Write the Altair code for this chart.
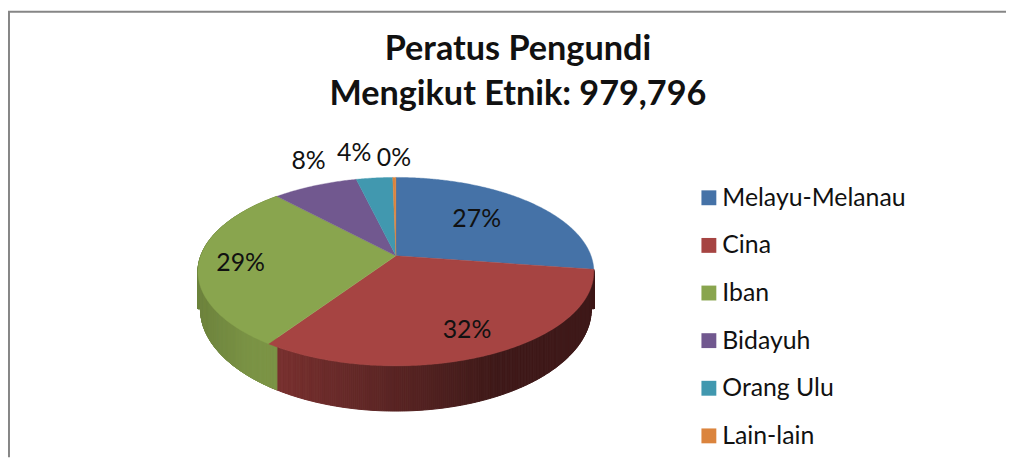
import math
import altair as alt
import pandas as pd

# --- data
categories = ["Melayu-Melanau", "Cina", "Iban", "Bidayuh", "Orang Ulu", "Lain-lain"]
shares = [27.3, 32.2, 28.5, 8.2, 3.5, 0.3]
labels = ["27%", "32%", "29%", "8%", "4%", "0%"]
title_lines = ["Peratus Pengundi", "Mengikut Etnik: 979,796"]

# --- styling / layout
colors = ["#4572A7", "#A64442", "#89A54E", "#71588F", "#4198AF", "#DB843D"]
side_shade = {"Cina": (0.74, 0.38), "Iban": (0.80, 0.90)}
W, H = 1006, 451
CX, CY = 391, 248          # pie centre (chart pixels)
A, B, K = 196.7, 92.3, 0.168   # tilted-disc projection
BOT_CY, BOT_RX, BOT_RY = 301.5, 197, 103  # lower rim
label_radius = [0.63, 0.768, 0.79, 1.39, 1.44, 1.32]
label_turn = [-4.2, -1, 0, 5.4, -3.2, 0]


def project(theta_deg, f=1.0):
    t = math.radians(theta_deg)
    u, v = f * math.sin(t), f * math.cos(t)
    w = 1 + K * v
    return CX + A * u / w, CY - B * v / w


def shade(hexcol, f):
    r, g, b = (int(hexcol[i:i + 2], 16) for i in (1, 3, 5))
    return "#%02x%02x%02x" % (int(r * f), int(g * f), int(b * f))


def rim_y(x):
    d = min(1.0, abs(x - CX) / BOT_RX)
    return BOT_CY + BOT_RY * math.sqrt(1 - d * d)


top_rows, side_rows, label_rows = [], [], []
start = 0.0
for idx, (cat, share) in enumerate(zip(categories, shares)):
    a0, a1 = start * 3.6, (start + share) * 3.6
    mid = (a0 + a1) / 2
    steps = max(2, int((a1 - a0) / 0.5))
    angles = [a0 + (a1 - a0) * i / steps for i in range(steps + 1)]
    pts = [(CX, CY)] + [project(a) for a in angles] + [(CX, CY)]
    for o, (x, y) in enumerate(pts):
        top_rows.append({"cat": cat, "o": o, "x": x, "y": y})

    # rim strips
    if cat in side_shade:
        s0, s1 = side_shade[cat]
        n = max(2, int((a1 - a0) / 0.5))
        rim = [a0 + (a1 - a0) * i / n for i in range(n + 1)]
        xs_ = [project(a)[0] for a in rim]
        xmin, xmax = min(xs_), max(xs_)
        for i in range(n):
            (x0, y0), (x1, y1) = project(rim[i]), project(rim[i + 1])
            b0, b1 = rim_y(x0), rim_y(x1)
            if b0 <= y0 and b1 <= y1:
                continue
            tt = min(1.0, ((x0 + x1) / 2 - xmin) / (xmax - xmin) / 0.7)
            col = shade(colors[idx], s0 + (s1 - s0) * tt)
            sid = f"{cat}{i}"
            poly = [(x0, y0), (x1, y1), (x1, max(b1, y1)), (x0, max(b0, y0)), (x0, y0)]
            for o, (x, y) in enumerate(poly):
                side_rows.append({"sid": sid, "o": o, "x": x, "y": y, "c": col})

    lx, ly = project(mid + label_turn[idx], label_radius[idx])
    label_rows.append({"x": lx, "y": ly, "t": labels[idx]})
    start += share

xs = alt.X("x:Q", scale=alt.Scale(domain=[0, W], nice=False, zero=False), axis=None)
ys = alt.Y("y:Q", scale=alt.Scale(domain=[H, 0], nice=False, zero=False), axis=None)

side = alt.Chart(pd.DataFrame(side_rows)).mark_line(filled=True, strokeWidth=1, interpolate="linear").encode(
    x=xs, y=ys, order="o:Q", detail="sid:N",
    fill=alt.Fill("c:N", scale=None, legend=None),
    stroke=alt.Stroke("c:N", scale=None, legend=None),
)

top = alt.Chart(pd.DataFrame(top_rows)).mark_line(filled=True, strokeWidth=0.4, interpolate="linear").encode(
    x=xs, y=ys, order="o:Q", detail="cat:N",
    fill=alt.Fill(
        "cat:N",
        scale=alt.Scale(domain=categories, range=colors),
        sort=categories,
        legend=alt.Legend(
            title=None, orient="none", legendX=694, legendY=177, symbolType="square",
            symbolSize=225, symbolStrokeWidth=0, labelFont="Lato", labelFontSize=25,
            labelColor="#111111", labelOffset=1, rowPadding=22, padding=0, labelLimit=400,
        ),
    ),
    stroke=alt.Stroke("cat:N", scale=alt.Scale(domain=categories, range=colors), legend=None),
)

text = alt.Chart(pd.DataFrame(label_rows)).mark_text(font="Lato", fontSize=25, color="#111111", dy=1.5).encode(
    x=xs, y=ys, text="t:N"
)

frame_h = alt.Chart(pd.DataFrame({"y": [2.0], "a": [0], "b": [W]})).mark_rule(color="#868686", strokeWidth=2).encode(
    y=ys, x=alt.X("a:Q", scale=alt.Scale(domain=[0, W], nice=False, zero=False), axis=None), x2="b:Q"
)
frame_v = alt.Chart(pd.DataFrame({"x": [1.0], "a": [2], "b": [H]})).mark_rule(color="#868686", strokeWidth=2).encode(
    x=xs, y=alt.Y("a:Q", scale=alt.Scale(domain=[H, 0], nice=False, zero=False), axis=None), y2="b:Q"
)

chart = alt.layer(frame_h, frame_v, side, top, text).resolve_scale(
    fill="independent", stroke="independent"
).properties(
    width=W, height=H,
    padding=0,
    background="white",
    autosize=alt.AutoSizeParams(type="none"),
    title=alt.TitleParams(
        text=title_lines, font="Lato", fontSize=34.5, fontWeight="bold", color="#111111",
        anchor="middle", frame="group", dx=11, dy=103, baseline="top", lineHeight=45, offset=0,
    ),
).configure_view(stroke=None)

chart.save("out.html", embed_options={"renderer": "svg", "actions": False})
